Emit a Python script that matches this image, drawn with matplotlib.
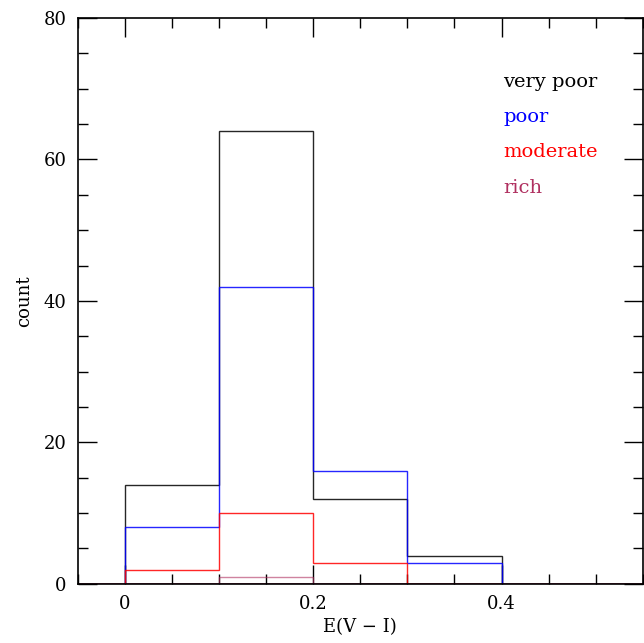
import numpy as np
import matplotlib
matplotlib.use("Agg")
import matplotlib.pyplot as plt
from matplotlib.ticker import MultipleLocator

# bin edges for E(V - I)
bin_edges = [0.0, 0.1, 0.2, 0.3, 0.4]

# counts per bin for each richness class
very_poor = [14, 64, 12, 4]
poor = [8, 42, 16, 3]
moderate = [2, 10, 3, 0]
rich = [0, 1, 0, 0]

labels = ["very poor", "poor", "moderate", "rich"]
colors = ["black", "blue", "red", "#b03060"]

plt.rcParams["font.family"] = ["DejaVu Serif"]

fig = plt.figure(figsize=(6.44, 6.43), dpi=100)
ax = fig.add_axes([0.121, 0.092, 0.877, 0.880])

# baseline drawn first, across whole axis
ax.axhline(0, color="#b03060", lw=2.0, zorder=1)

for counts, col in zip([very_poor, poor, moderate, rich], colors):
    alpha = 0.6 if col == "#b03060" else 0.85
    ax.stairs(counts, bin_edges, color=col, lw=1.0, alpha=alpha, zorder=2)

ax.set_xlim(-0.05, 0.55)
ax.set_ylim(0, 80)

ax.xaxis.set_major_locator(MultipleLocator(0.2))
ax.xaxis.set_minor_locator(MultipleLocator(0.05))
ax.yaxis.set_major_locator(MultipleLocator(20))
ax.yaxis.set_minor_locator(MultipleLocator(5))
ax.set_xticks([0, 0.2, 0.4])
ax.set_xticklabels(["0", "0.2", "0.4"])

ax.tick_params(which="both", direction="in", top=True, right=True,
               labelsize=13, pad=8)
ax.tick_params(which="major", length=14, width=1.0)
ax.tick_params(which="minor", length=7, width=1.0)

for s in ax.spines.values():
    s.set_linewidth(1.2)

ax.set_xlabel("E(V \u2212 I)", fontsize=13, labelpad=4)
ax.set_ylabel("count", fontsize=13, labelpad=8)

# legend as coloured text
for i, (lab, col) in enumerate(zip(labels, colors)):
    ax.text(0.402, 71 - i * 5.0, lab, color=col, fontsize=14,
            ha="left", va="center")

fig.savefig("out.png", dpi=100)
